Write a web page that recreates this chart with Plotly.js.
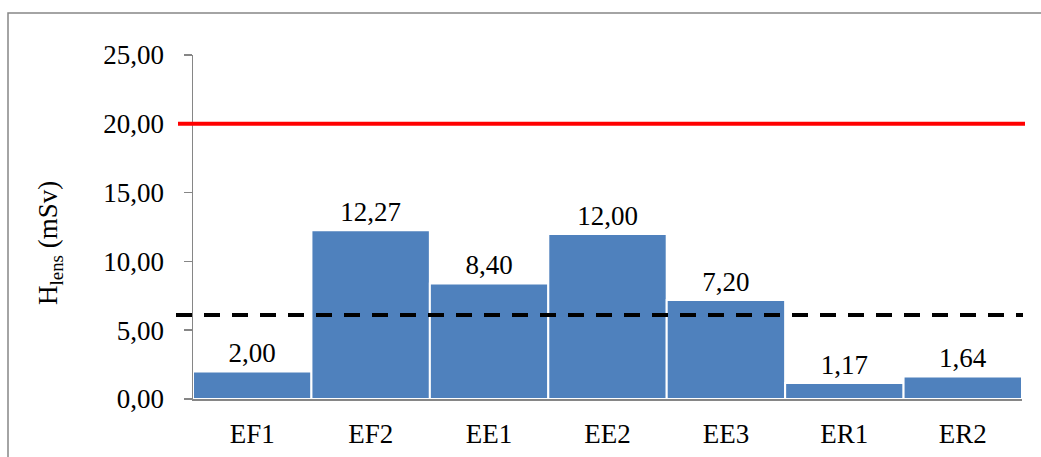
<!DOCTYPE html>
<html>
<head>
<meta charset="utf-8">
<script src="https://cdn.plot.ly/plotly-3.0.1.min.js"></script>
<style>html,body{margin:0;padding:0;background:#fff;}#chart{width:1041px;height:457px;}</style>
</head>
<body>
<div id="chart"></div>
<script>
const categories = ["EF1", "EF2", "EE1", "EE2", "EE3", "ER1", "ER2"];
const hLens = [2.00, 12.27, 8.40, 12.00, 7.20, 1.17, 1.64];
const annualLimit = [20];
const investigationLevel = [6.1];
const yTicks = [0, 5, 10, 15, 20, 25];

const font = "'Liberation Serif', 'Times New Roman', serif";
const L = 193, R = 1022, T = 55, B = 399;
const pw = R - L, ph = B - T;
const px = v => (v - L) / pw;
const py = v => (B - v) / ph;

const trace = {
  type: "bar",
  x: categories,
  y: hLens,
  marker: { color: "#4F81BD", line: { color: "#ffffff", width: 2 } },
  text: hLens,
  texttemplate: "%{y:.2f}",
  textposition: "outside",
  cliponaxis: false,
  textfont: { family: font, size: 27, color: "#000" },
  hoverinfo: "skip"
};

const shapes = [
  { type: "rect", xref: "paper", yref: "paper", x0: px(8), x1: px(1100), y0: py(520), y1: py(13),
    line: { color: "#868686", width: 1.5 }, fillcolor: "rgba(0,0,0,0)", layer: "below" },
  { type: "line", xref: "paper", yref: "y", x0: px(178), x1: px(1025), y0: annualLimit[0], y1: annualLimit[0],
    line: { color: "#FF0000", width: 4 } },
  { type: "line", xref: "paper", yref: "y", x0: px(176), x1: px(1023), y0: investigationLevel[0], y1: investigationLevel[0],
    line: { color: "#000000", width: 4, dash: "16px,12px" } }
];

const layout = {
  width: 1041, height: 457,
  margin: { l: L, r: 1041 - R, t: T, b: 457 - B, pad: 0 },
  paper_bgcolor: "#fff", plot_bgcolor: "#fff",
  separators: ",.",
  showlegend: false,
  bargap: 0,
  font: { family: font, size: 27, color: "#000" },
  xaxis: {
    type: "category",
    showline: true, linecolor: "#868686", linewidth: 1.5,
    ticks: "", showgrid: false, zeroline: false,
    ticklabelstandoff: 10,
    tickfont: { family: font, size: 27, color: "#000" }
  },
  yaxis: {
    range: [0, 25], tickvals: yTicks, tickformat: ".2f",
    showline: true, linecolor: "#868686", linewidth: 1.5,
    ticks: "outside", ticklen: 8, tickcolor: "#868686", tickwidth: 1.5,
    ticklabelstandoff: 14,
    showgrid: false, zeroline: false,
    tickfont: { family: font, size: 27, color: "#000" }
  },
  shapes: shapes,
  annotations: [
    { text: "H<sub>lens</sub> (mSv)", xref: "paper", yref: "paper", x: px(50), y: py(243),
      textangle: -90, showarrow: false, xanchor: "center", yanchor: "middle",
      font: { family: font, size: 27, color: "#000" } }
  ]
};

Plotly.newPlot("chart", [trace], layout, { staticPlot: true, displayModeBar: false });
</script>
</body>
</html>
